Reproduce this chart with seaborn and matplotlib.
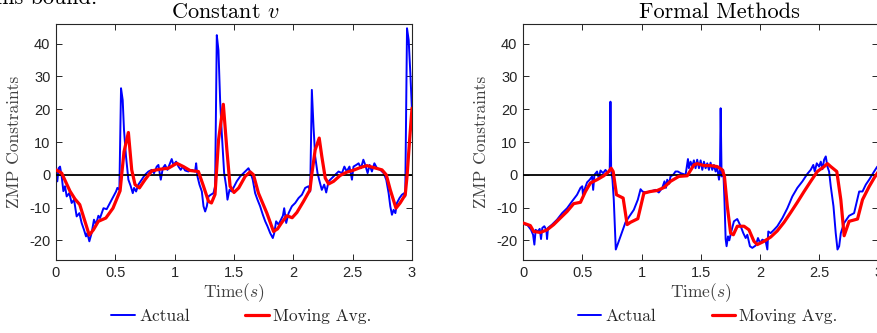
import matplotlib
matplotlib.use("Agg")
import matplotlib.pyplot as plt
import seaborn as sns
import numpy as np

# ---------------- data ----------------
xticks = [0, 0.5, 1, 1.5, 2, 2.5, 3]
xtick_labels = ["0", "0.5", "1", "1.5", "2", "2.5", "3"]
yticks = [-20, -10, 0, 10, 20, 30, 40]
ytick_labels = ["-20", "-10", "0", "10", "20", "30", "40"]
titles = ["Constant $v$", "Formal Methods"]
series_labels = ["Actual", "Moving Avg."]

# Left panel: Constant v
cv_actual_t = [0, 0.011, 0.022, 0.034, 0.048, 0.062, 0.076, 0.09, 0.112, 0.132, 0.152, 0.174, 0.197, 0.216,
               0.236, 0.253, 0.264, 0.281, 0.3, 0.32, 0.337, 0.357, 0.371, 0.4, 0.427, 0.455, 0.484, 0.506,
               0.517, 0.534, 0.548, 0.562, 0.573, 0.59, 0.61, 0.63, 0.647, 0.658, 0.675, 0.694, 0.722, 0.75,
               0.779, 0.807, 0.826, 0.849, 0.863, 0.883, 0.9, 0.919, 0.939, 0.961, 0.975, 0.99, 1.012, 1.032,
               1.051, 1.068, 1.088, 1.116, 1.144, 1.172, 1.181, 1.192, 1.209, 1.229, 1.243, 1.257, 1.271,
               1.285, 1.304, 1.327, 1.341, 1.355, 1.369, 1.383, 1.397, 1.417, 1.434, 1.445, 1.462, 1.481,
               1.495, 1.523, 1.552, 1.594, 1.622, 1.641, 1.658, 1.678, 1.698, 1.72, 1.743, 1.763, 1.782,
               1.805, 1.827, 1.839, 1.855, 1.875, 1.895, 1.912, 1.923, 1.94, 1.96, 1.988, 2.016, 2.044,
               2.072, 2.1, 2.128, 2.142, 2.156, 2.17, 2.184, 2.204, 2.221, 2.24, 2.26, 2.277, 2.297, 2.325,
               2.353, 2.381, 2.41, 2.43, 2.45, 2.473, 2.494, 2.507, 2.53, 2.55, 2.57, 2.59, 2.606, 2.626,
               2.643, 2.662, 2.683, 2.705, 2.733, 2.761, 2.783, 2.803, 2.817, 2.831, 2.845, 2.86, 2.873,
               2.895, 2.915, 2.935, 2.943, 2.958, 2.972, 2.986, 3.0]
cv_actual_y = [1.5, -2, 2, 2.5, -0.5, -5, -3.5, -6.6, -5.6, -8.6, -7.6, -12.7, -11.7, -14.7,
               -16.8, -18.8, -17.8, -20.3, -17.8, -13.7, -15.2, -12.5, -13.2, -10.2, -10.5, -8.6, -6.6, -5.1,
               -4, -4.6, 26.4, 22.8, 13.7, 5.6, -1.5, -3.5, -5.6, -4, -5.1, -3, -1.5, 0,
               1, 1.5, 0.5, 2.5, 3, -1.5, 2, 3, 1.5, 3.5, 4.8, 3, 4, 2.5,
               1.5, 2.5, 1.3, 1, 1.5, 1, 3.5, -0.5, -3, -5.1, -9.6, -11.2, -9.6,
               -6.6, -6.1, -5.6, -3.5, 42.6, 38, 22.8, 12.7, 0.5, -3.5, -7.6, -4.6, -5.1,
               -4, -2, -0.5, 1, 2, 0.5, -1.5, -5.6, -7.6, -9.6, -12.2, -14.2, -15.7,
               -17.8, -19.3, -17.8, -14.2, -15.2, -13.7, -12.5, -10.2, -14.7, -11.7, -9.6, -8.6, -7.1,
               -6.1, -4, -3.5, -5.1, 25.9, 14.7, 5.6, 0.5, -2, -4.6, -3, -5.4, -2, -1,
               0, 1, 0.5, 2.5, 1, 2.5, -1.5, 2.5, 3, 3.5, 2, 4.6, 3, 0.5,
               3, 1, 3.5, 2, 1.5, 0.5, -1.5, -5.6, -9.6, -12.2, -10.7, -11.7, -8.6,
               -7.1, -6.1, -5.6, -6.6, 44.7, 41.1, 31, 19.3]

cv_avg_t = [0, 0.048, 0.118, 0.16, 0.2, 0.28, 0.315, 0.357, 0.42, 0.48, 0.54, 0.573, 0.61, 0.638,
            0.666, 0.703, 0.75, 0.807, 0.877, 0.947, 1.018, 1.074, 1.13, 1.2, 1.243, 1.285, 1.31, 1.34,
            1.37, 1.41, 1.44, 1.467, 1.5, 1.54, 1.594, 1.636, 1.664, 1.706, 1.777, 1.833, 1.867, 1.9,
            1.945, 1.99, 2.03, 2.086, 2.14, 2.157, 2.184, 2.218, 2.24, 2.269, 2.297, 2.339, 2.395, 2.45,
            2.507, 2.564, 2.62, 2.676, 2.747, 2.783, 2.817, 2.865, 2.9, 2.943, 2.958, 2.98, 3.0]
cv_avg_y = [1.5, 0.5, -5, -7.4, -9.1, -18.4, -16.8, -14.2, -13.2, -10.2, -4.9, 7, 12.9, 1.5,
            -3, -4, -1.5, 1.2, 1.7, 2, 3.5, 2.5, 1.3, 1, -3.5, -8.1, -8.6, -6,
            10.7, 21.5, 7.6, -3.5, -5.4, -4, -0.5, 0.9, 0, -5.6, -11.7, -17.3, -16.5, -14.7,
            -12.5, -13.1, -11.5, -8.1, -4.6, 0.5, 7.6, 11.2, 5.6, -1, -2.8, -2, -0.2, 0.8,
            1.4, 2.2, 2.8, 2.2, 1.5, 0, -4.6, -10.2, -8.6, -6.1, -0.5, 10.7, 20.3]

# Right panel: Formal Methods
fm_actual_t = [0, 0.039, 0.068, 0.085, 0.096, 0.107, 0.124, 0.141, 0.152, 0.163, 0.18, 0.197, 0.203, 0.211,
               0.245, 0.287, 0.33, 0.372, 0.414, 0.456, 0.485, 0.5, 0.507, 0.518, 0.541, 0.563, 0.583,
               0.592, 0.603, 0.625, 0.639, 0.654, 0.676, 0.696, 0.715, 0.732, 0.738, 0.744, 0.755, 0.766,
               0.783, 0.808, 0.837, 0.865, 0.901, 0.935, 0.969, 0.992, 1.008, 1.034, 1.076, 1.118, 1.146,
               1.175, 1.194, 1.206, 1.217, 1.234, 1.245, 1.268, 1.287, 1.307, 1.33, 1.372, 1.392, 1.4,
               1.414, 1.428, 1.442, 1.456, 1.47, 1.485, 1.499, 1.513, 1.527, 1.541, 1.555, 1.569, 1.583,
               1.597, 1.611, 1.625, 1.639, 1.654, 1.662, 1.668, 1.676, 1.69, 1.7, 1.71, 1.718, 1.73,
               1.741, 1.758, 1.78, 1.808, 1.837, 1.859, 1.879, 1.893, 1.915, 1.935, 1.963, 1.983, 2.0,
               2.02, 2.048, 2.062, 2.07, 2.09, 2.118, 2.146, 2.189, 2.231, 2.273, 2.315, 2.358, 2.4,
               2.428, 2.45, 2.462, 2.479, 2.499, 2.513, 2.527, 2.541, 2.555, 2.569, 2.583, 2.597, 2.62,
               2.639, 2.654, 2.668, 2.682, 2.71, 2.752, 2.794, 2.837, 2.865, 2.893, 2.921, 2.963, 2.99, 3.0]
fm_actual_y = [-14.9, -15.4, -16.8, -18.3, -21.3, -16.8, -17.3, -16.5, -19.6, -16.2, -15.7, -16.8, -19.6, -16.2,
               -15.2, -13.7, -11.7, -10.2, -8.1, -6.1, -4, -3.5, -6.6, -4.6, -2.3, -1.5, -0.5,
               -4.6, 0, 1, -1, 1.3, 0.5, 1.5, 0.5, 1.5, 22.3, 1.5, -1.5, -7.6,
               -22.8, -20.3, -17.3, -14.5, -12.5, -10.7, -7.6, -4.4, -5.1, -5.4, -5.1, -4.6, -5.4,
               -4, -2, -4, -1.5, -2.7, -0.5, 0, 1, 1, 0.5, 0, 4.8, 2,
               4, 2.5, 4.4, 2, 4.6, 2, 4.4, 1.5, 4, 2, 3.5, 1.5, 3.7,
               1.5, 3, 1, 2, -1.5, 1.5, 20.3, -0.5, 1.5, -7.6, -19.6, -21.8, -18.8,
               -20, -17.3, -14.2, -13.5, -15.7, -17.8, -19.3, -18.3, -21.8, -22.3, -21.6, -19.3, -20.8,
               -19.8, -20.3, -22.8, -17.3, -17.8, -16.8, -15.7, -13.2, -10.2, -6.6, -4, -2, 0.3,
               1.5, 3, 1, 3.5, 2.5, 4, 1.7, 4.6, 5.6, 2.5, 1, -3.5, -9.6,
               -17.8, -22.8, -21.8, -17.8, -14.7, -12.5, -11.7, -5.1, -5.1, -3, -1.5, 1, 2.5, 2]

fm_avg_t = [0, 0.062, 0.09, 0.146, 0.203, 0.259, 0.315, 0.372, 0.428, 0.485, 0.527, 0.569, 0.625, 0.682,
            0.724, 0.744, 0.761, 0.789, 0.845, 0.879, 0.907, 0.969, 1.02, 1.076, 1.132, 1.189, 1.245,
            1.315, 1.386, 1.442, 1.47, 1.527, 1.583, 1.639, 1.682, 1.7, 1.724, 1.752, 1.775, 1.808,
            1.865, 1.907, 1.949, 1.977, 2.034, 2.09, 2.146, 2.203, 2.259, 2.315, 2.372, 2.428, 2.484,
            2.541, 2.569, 2.597, 2.648, 2.682, 2.71, 2.752, 2.823, 2.865, 2.921, 2.963, 3.0]
fm_avg_y = [-14.7, -15.5, -17.3, -17.6, -16.8, -15.2, -13.2, -11.2, -8.8, -8.4, -5.1, -2.5, -1.5, -0.3,
            1, 2, 1, -6.1, -7.1, -15.2, -14.5, -13.4, -5.6, -5.1, -4.8, -3.9, -2,
            -0.5, -0.3, 3, 3.4, 2.8, 2.8, 2.5, 1.5, -0.5, -9.6, -17.8, -18.3, -15.7,
            -15.7, -16.8, -20.3, -21.3, -20.3, -19, -17.1, -14.5, -11.5, -8.4, -5.1, -2, 1,
            2.5, 3.4, 2.5, 1, -7.6, -18.6, -14.2, -13.5, -7.6, -3.6, -1, 1]

panels = [
    (cv_actual_t, cv_actual_y, cv_avg_t, cv_avg_y),
    (fm_actual_t, fm_actual_y, fm_avg_t, fm_avg_y),
]

# ---------------- style ----------------
sns.set_theme(style="white")
plt.rcParams["mathtext.fontset"] = "cm"
plt.rcParams["axes.unicode_minus"] = False
plt.rcParams["font.family"] = ["Liberation Sans", "DejaVu Sans"]

GRAY = "#262626"
SERIF = "cmr10"

fig = plt.figure(figsize=(8.78, 3.33), dpi=100)
ax_rects = [
    [56 / 878, 73 / 333, 356 / 878, 236 / 333],
    [523 / 878, 73 / 333, 355.5 / 878, 236 / 333],
]
title_x = [0.475, 0.552]
legend_cx = [0.275, 0.806]

for i, (at, ay, mt, my) in enumerate(panels):
    ax = fig.add_axes(ax_rects[i])
    sns.lineplot(x=at, y=ay, ax=ax, color=(0, 0, 1), linewidth=1.4,
                 sort=False, estimator=None, label=series_labels[0], zorder=2)
    ax.axhline(0, color="black", linewidth=1.3, zorder=3)
    sns.lineplot(x=mt, y=my, ax=ax, color=(1, 0, 0), linewidth=2.3,
                 sort=False, estimator=None, label=series_labels[1], zorder=4)
    ax.set_xlim(0, 3)
    ax.set_ylim(-26, 46)
    ax.set_xticks(xticks)
    ax.set_xticklabels(xtick_labels)
    ax.set_yticks(yticks)
    ax.set_yticklabels(ytick_labels)
    ax.tick_params(direction="in", length=4, width=0.7, colors=GRAY, labelsize=10.5,
                   top=True, right=True, bottom=True, left=True, pad=4)
    for s in ax.spines.values():
        s.set_visible(True)
        s.set_color(GRAY)
        s.set_linewidth(0.8)
    ax.set_xlabel("Time($s$)", fontfamily=SERIF, fontsize=12.5, color="#404040")
    ax.xaxis.set_label_coords(0.5, -0.09)
    ax.set_ylabel("ZMP Constraints", fontfamily=SERIF, fontsize=12.5, color="#404040")
    ax.yaxis.set_label_coords(-0.095, 0.5)
    ax.text(title_x[i], 1.0 + 6 / 236, titles[i], transform=ax.transAxes,
            ha="center", va="baseline", fontfamily=SERIF, fontsize=16, color="black")
    handles, labels = ax.get_legend_handles_labels()
    ax.legend(handles, labels, ncol=2, loc="center",
              bbox_to_anchor=(legend_cx[i], 0.051), bbox_transform=fig.transFigure,
              frameon=False, handlelength=1.35, handletextpad=0.25, columnspacing=3.2,
              prop={"family": SERIF, "size": 12.5})

fig.text(97 / 878, 1 - 4 / 333, "ins bound.", ha="right", va="baseline",
         fontfamily=SERIF, fontsize=16, color="black")

fig.savefig("out.png", dpi=100)
